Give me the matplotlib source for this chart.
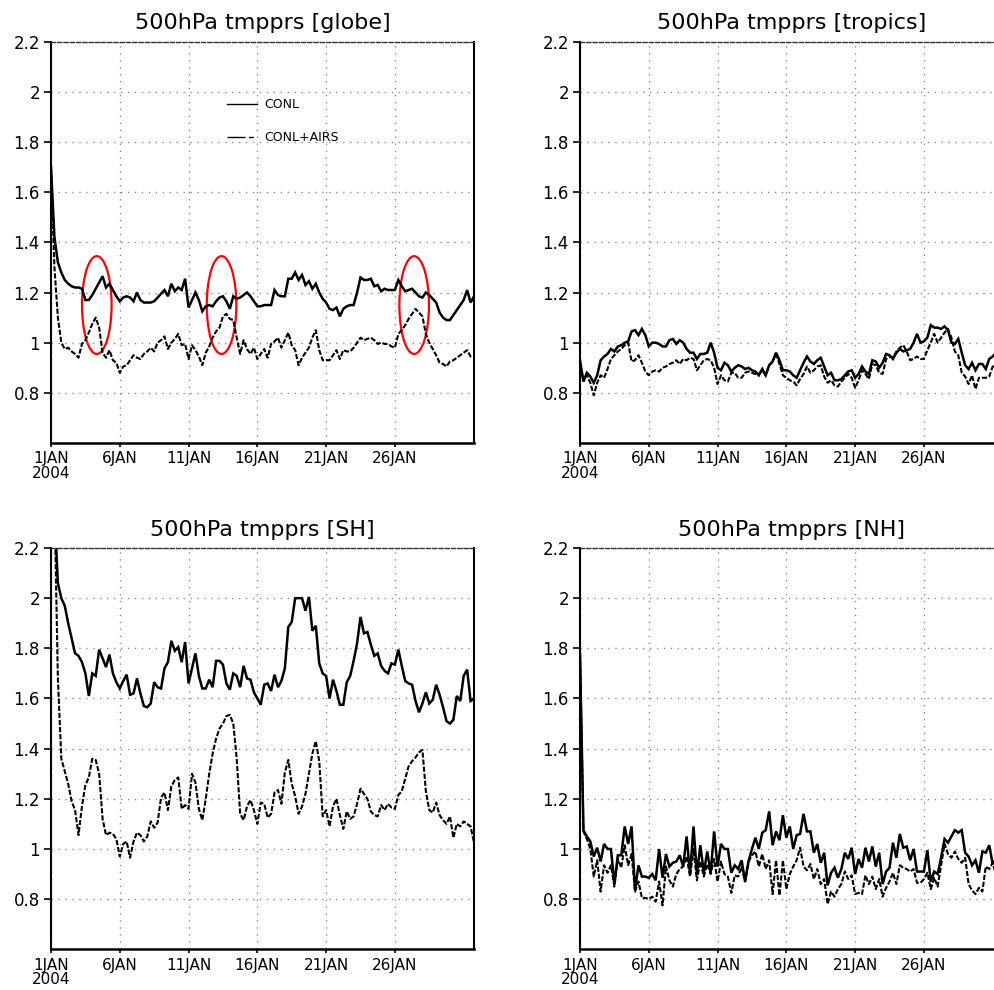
import matplotlib
matplotlib.use('Agg')
import matplotlib.pyplot as plt
from matplotlib.lines import Line2D
from matplotlib.patches import Ellipse
import numpy as np

# 6-hourly samples, 1 JAN 00Z .. 31 JAN 18Z 2004
steps_per_day = 4

globe_conl = [
    1.70, 1.42, 1.32, 1.28, 1.25, 1.235, 1.225, 1.22,
    1.22, 1.215, 1.17, 1.17, 1.19, 1.215, 1.24, 1.265,
    1.22, 1.235, 1.21, 1.185, 1.165, 1.18, 1.185, 1.18,
    1.165, 1.20, 1.17, 1.16, 1.16, 1.16, 1.165, 1.18,
    1.195, 1.21, 1.185, 1.235, 1.205, 1.22, 1.21, 1.255,
    1.14, 1.17, 1.20, 1.17, 1.125, 1.145, 1.15, 1.145,
    1.165, 1.18, 1.185, 1.165, 1.135, 1.185, 1.175, 1.18,
    1.19, 1.20, 1.185, 1.165, 1.145, 1.145, 1.15, 1.15,
    1.15, 1.21, 1.19, 1.185, 1.185, 1.255, 1.255, 1.28,
    1.25, 1.27, 1.23, 1.245, 1.215, 1.235, 1.20, 1.175,
    1.16, 1.135, 1.13, 1.14, 1.105, 1.135, 1.145, 1.15,
    1.15, 1.20, 1.26, 1.25, 1.25, 1.255, 1.225, 1.23,
    1.205, 1.215, 1.21, 1.21, 1.21, 1.25, 1.225, 1.205,
    1.21, 1.215, 1.20, 1.185, 1.18, 1.20, 1.19, 1.175,
    1.16, 1.12, 1.10, 1.09, 1.09, 1.11, 1.13, 1.15,
    1.17, 1.21, 1.16, 1.185]
globe_airs = [
    1.70, 1.30, 1.10, 1.00, 0.975, 0.98, 0.965, 0.955,
    0.94, 0.995, 1.01, 1.04, 1.075, 1.10, 1.06, 0.96,
    0.94, 0.97, 0.93, 0.92, 0.88, 0.905, 0.91, 0.93,
    0.95, 0.94, 0.935, 0.955, 0.965, 0.98, 0.965, 1.00,
    1.01, 1.025, 0.975, 1.00, 1.015, 1.035, 0.99, 0.995,
    0.935, 0.99, 0.97, 0.945, 0.91, 0.96, 0.985, 1.02,
    1.045, 1.06, 1.105, 1.115, 1.095, 1.09, 1.02, 0.955,
    1.01, 0.975, 0.955, 0.98, 0.935, 0.955, 0.975, 0.94,
    0.995, 1.005, 1.02, 0.98, 1.01, 1.04, 0.99, 0.97,
    0.91, 0.94, 0.96, 0.98, 1.02, 1.05, 0.97, 0.93,
    0.93, 0.93, 0.95, 0.97, 0.935, 0.97, 0.965, 0.965,
    0.98, 1.00, 1.02, 1.01, 1.015, 1.02, 1.01, 0.995,
    1.00, 0.995, 0.995, 0.985, 0.98, 1.035, 1.05, 1.07,
    1.095, 1.115, 1.135, 1.12, 1.105, 1.035, 1.00, 0.975,
    0.95, 0.92, 0.915, 0.905, 0.925, 0.93, 0.94, 0.95,
    0.96, 0.97, 0.945, 0.945]

tropics_conl = [
    0.93, 0.845, 0.88, 0.865, 0.84, 0.87, 0.93, 0.945,
    0.955, 0.975, 0.965, 0.985, 0.99, 1.00, 1.005, 1.045,
    1.05, 1.03, 1.055, 1.03, 0.985, 1.00, 1.00, 0.995,
    0.985, 0.985, 1.01, 1.015, 0.995, 1.01, 1.00, 0.975,
    0.96, 0.96, 0.935, 0.955, 0.955, 0.96, 1.00, 0.96,
    0.90, 0.89, 0.92, 0.91, 0.885, 0.90, 0.91, 0.905,
    0.895, 0.90, 0.89, 0.885, 0.87, 0.895, 0.87, 0.91,
    0.925, 0.96, 0.93, 0.89, 0.89, 0.885, 0.87, 0.86,
    0.89, 0.92, 0.945, 0.925, 0.915, 0.93, 0.94, 0.905,
    0.87, 0.88, 0.85, 0.85, 0.855, 0.87, 0.885, 0.89,
    0.86, 0.875, 0.905, 0.885, 0.875, 0.93, 0.925, 0.90,
    0.92, 0.955, 0.95, 0.935, 0.96, 0.975, 0.965, 0.97,
    0.975, 1.00, 1.035, 1.00, 1.005, 1.02, 1.07, 1.06,
    1.06, 1.055, 1.065, 1.05, 1.00, 0.995, 1.015, 0.96,
    0.91, 0.895, 0.92, 0.89, 0.915, 0.915, 0.895, 0.935,
    0.945, 0.96, 0.97, 0.975]
tropics_airs = [
    0.90, 0.855, 0.87, 0.84, 0.79, 0.84, 0.87, 0.86,
    0.895, 0.935, 0.95, 0.965, 0.975, 0.99, 1.00, 0.925,
    0.93, 0.95, 0.92, 0.885, 0.87, 0.885, 0.89, 0.885,
    0.90, 0.905, 0.915, 0.92, 0.93, 0.915, 0.935, 0.93,
    0.94, 0.935, 0.89, 0.91, 0.93, 0.935, 0.93, 0.90,
    0.835, 0.87, 0.85, 0.845, 0.88, 0.88, 0.86, 0.86,
    0.88, 0.885, 0.88, 0.875, 0.875, 0.89, 0.87, 0.91,
    0.925, 0.955, 0.915, 0.87, 0.86, 0.85, 0.845, 0.83,
    0.855, 0.875, 0.905, 0.88, 0.89, 0.905, 0.91, 0.865,
    0.84, 0.85, 0.83, 0.825, 0.845, 0.86, 0.875, 0.86,
    0.82, 0.85, 0.89, 0.875, 0.855, 0.915, 0.91, 0.88,
    0.875, 0.935, 0.945, 0.94, 0.965, 0.98, 0.99, 0.965,
    0.93, 0.935, 0.945, 0.935, 0.935, 0.97, 1.00, 1.035,
    1.00, 1.02, 1.04, 1.055, 1.02, 0.965, 0.95, 0.88,
    0.865, 0.835, 0.87, 0.815, 0.86, 0.86, 0.86, 0.865,
    0.905, 0.91, 0.915, 0.92]

sh_conl = [
    2.70, 2.35, 2.06, 2.00, 1.97, 1.90, 1.84, 1.78,
    1.77, 1.745, 1.70, 1.61, 1.70, 1.69, 1.795, 1.76,
    1.725, 1.775, 1.70, 1.665, 1.64, 1.67, 1.695, 1.615,
    1.62, 1.68, 1.62, 1.57, 1.565, 1.58, 1.665, 1.645,
    1.64, 1.72, 1.745, 1.83, 1.79, 1.805, 1.745, 1.825,
    1.66, 1.72, 1.78, 1.69, 1.64, 1.64, 1.675, 1.645,
    1.75, 1.75, 1.735, 1.66, 1.635, 1.70, 1.69, 1.645,
    1.73, 1.68, 1.675, 1.625, 1.60, 1.575, 1.655, 1.66,
    1.63, 1.695, 1.645, 1.67, 1.72, 1.885, 1.905, 2.00,
    2.00, 2.00, 1.95, 2.005, 1.87, 1.89, 1.74, 1.70,
    1.69, 1.60, 1.675, 1.63, 1.575, 1.575, 1.665, 1.69,
    1.75, 1.82, 1.925, 1.86, 1.865, 1.815, 1.77, 1.78,
    1.73, 1.71, 1.70, 1.74, 1.735, 1.795, 1.73, 1.67,
    1.66, 1.655, 1.59, 1.545, 1.58, 1.625, 1.58, 1.595,
    1.655, 1.615, 1.565, 1.51, 1.50, 1.515, 1.61, 1.59,
    1.69, 1.715, 1.59, 1.60]
sh_airs = [
    2.70, 2.40, 1.68, 1.36, 1.31, 1.26, 1.19, 1.155,
    1.055, 1.17, 1.255, 1.285, 1.36, 1.355, 1.30, 1.12,
    1.055, 1.065, 1.06, 1.04, 0.97, 1.02, 1.03, 0.965,
    1.03, 1.065, 1.055, 1.03, 1.05, 1.11, 1.085, 1.105,
    1.205, 1.225, 1.155, 1.25, 1.275, 1.285, 1.16, 1.175,
    1.16, 1.30, 1.265, 1.16, 1.115, 1.20, 1.30, 1.38,
    1.44, 1.48, 1.50, 1.53, 1.535, 1.50, 1.36, 1.14,
    1.115, 1.17, 1.195, 1.155, 1.10, 1.185, 1.18, 1.125,
    1.14, 1.225, 1.235, 1.18, 1.305, 1.355, 1.26, 1.21,
    1.14, 1.17, 1.22, 1.30, 1.38, 1.43, 1.35, 1.13,
    1.155, 1.09, 1.17, 1.20, 1.135, 1.08, 1.15, 1.12,
    1.13, 1.18, 1.24, 1.22, 1.20, 1.15, 1.135, 1.13,
    1.175, 1.155, 1.18, 1.165, 1.16, 1.215, 1.23, 1.28,
    1.33, 1.35, 1.365, 1.385, 1.395, 1.23, 1.155, 1.145,
    1.185, 1.135, 1.115, 1.10, 1.13, 1.045, 1.10, 1.09,
    1.11, 1.10, 1.09, 1.025]

nh_conl = [
    1.78, 1.075, 1.05, 1.03, 0.97, 1.005, 0.95, 1.02,
    1.00, 1.00, 0.86, 0.975, 0.975, 1.09, 1.02, 1.09,
    0.835, 0.935, 0.89, 0.89, 0.885, 0.90, 0.875, 1.00,
    0.885, 0.98, 0.93, 0.945, 0.95, 0.975, 0.93, 1.05,
    0.90, 1.09, 0.90, 1.015, 0.905, 0.99, 0.905, 1.07,
    0.93, 1.02, 1.00, 1.00, 0.905, 0.935, 0.92, 0.955,
    0.87, 0.95, 1.00, 1.045, 1.00, 1.065, 1.075, 1.15,
    1.015, 1.07, 1.035, 1.135, 1.045, 1.09, 1.00, 1.055,
    1.06, 1.14, 1.07, 1.07, 0.985, 1.02, 0.945, 0.985,
    0.855, 0.905, 0.925, 0.885, 0.92, 0.985, 0.96, 1.005,
    0.90, 0.96, 0.925, 1.005, 0.95, 1.01, 0.93, 0.985,
    0.86, 0.91, 0.925, 1.025, 0.965, 1.06, 1.005, 1.01,
    0.955, 1.00, 0.91, 0.91, 0.91, 0.995, 0.87, 0.91,
    0.90, 0.965, 1.04, 1.025, 1.05, 1.075, 1.065, 1.075,
    0.985, 0.97, 0.935, 0.955, 0.905, 0.99, 0.985, 1.015,
    0.94, 0.96, 0.95, 0.97]
nh_airs = [
    1.78, 1.07, 1.04, 1.00, 0.89, 0.955, 0.83, 0.935,
    0.905, 0.935, 0.85, 0.96, 0.925, 1.015, 0.935, 0.98,
    0.83, 0.87, 0.805, 0.805, 0.80, 0.81, 0.79, 0.87,
    0.775, 0.93, 0.875, 0.85, 0.90, 0.92, 0.93, 0.97,
    0.89, 1.00, 0.875, 0.95, 0.89, 0.94, 0.90, 0.96,
    0.87, 0.95, 0.90, 0.89, 0.825, 0.895, 0.89, 0.93,
    0.87, 0.95, 0.975, 0.99, 0.93, 0.98, 0.92, 0.955,
    0.82, 0.955, 0.815, 0.955, 0.84, 0.90, 0.93, 0.955,
    1.005, 0.93, 0.915, 0.94, 0.88, 0.92, 0.86, 0.88,
    0.78, 0.83, 0.81, 0.84, 0.86, 0.91, 0.88, 0.895,
    0.82, 0.825, 0.82, 0.895, 0.86, 0.89, 0.84, 0.88,
    0.81, 0.845, 0.87, 0.905, 0.86, 0.935, 0.925, 0.92,
    0.91, 0.92, 0.865, 0.865, 0.88, 0.905, 0.84, 0.885,
    0.85, 0.935, 1.02, 0.98, 0.965, 0.99, 0.96, 0.945,
    0.965, 0.86, 0.835, 0.82, 0.845, 0.83, 0.93, 0.92,
    0.945, 0.895, 0.90, 0.92]

panels = [
    ('globe', globe_conl, globe_airs),
    ('tropics', tropics_conl, tropics_airs),
    ('SH', sh_conl, sh_airs),
    ('NH', nh_conl, nh_airs),
]

yticks = [0.8, 1.0, 1.2, 1.4, 1.6, 1.8, 2.0, 2.2]
ytick_labels = ['0.8', '1', '1.2', '1.4', '1.6', '1.8', '2', '2.2']
xticks = [0, 5, 10, 15, 20, 25]
xtick_labels = ['1JAN\n2004', '6JAN', '11JAN', '16JAN', '21JAN', '26JAN']
ellipse_days = [3.33, 12.4, 26.4]
ellipse_value = 1.15

fig = plt.figure(figsize=(9.94, 9.90), dpi=100)

# axes boxes in pixels: left, top of plot area
boxes = [(51, 41.7), (580, 41.7), (51, 548), (580, 548)]
W, H = 423, 401.3

dash_airs = (0, (2.5, 0.9))

for (name, conl, airs), (lx, ty) in zip(panels, boxes):
    ax = fig.add_axes([lx / 994, (990 - ty - H) / 990, W / 994, H / 990])
    days = np.arange(len(conl)) / steps_per_day
    ax.plot(days, conl, color='black', lw=1.8, solid_joinstyle='miter')
    ax.plot(days, airs, color='black', lw=1.5, linestyle=dash_airs)

    ax.set_xlim(0, 30.75)
    ax.set_ylim(0.6, 2.2)
    ax.set_yticks(yticks)
    ax.set_yticklabels(ytick_labels, fontsize=12, family='DejaVu Sans')
    ax.set_xticks(xticks)
    ax.set_xticklabels(xtick_labels, fontsize=11, family='DejaVu Sans',
                       linespacing=0.95)
    ax.tick_params(axis='y', direction='out', length=5, width=1.2, pad=3)
    ax.tick_params(axis='x', direction='out', length=3, width=1.2, pad=3)
    ax.grid(True, linestyle=(0, (1, 4)), color='#8a8a8a', lw=1.0)

    ax.spines['bottom'].set_linewidth(1.8)
    ax.spines['right'].set_linewidth(1.5)
    ax.spines['left'].set_linewidth(1.5)
    ax.spines['left'].set_linestyle((0, (3, 1)))
    ax.spines['top'].set_linewidth(1.0)
    ax.spines['top'].set_linestyle((0, (3, 1.5)))
    ax.spines['top'].set_color('#333333')

    ax.set_title('500hPa tmpprs [%s]' % name, fontsize=16,
                 family='DejaVu Sans', pad=9)

    if name == 'globe':
        for d in ellipse_days:
            ax.add_patch(Ellipse((d, ellipse_value), width=2.15, height=0.39,
                                 fill=False, edgecolor='red', lw=1.6))
        handles = [
            Line2D([], [], color='black', lw=1.0),
            Line2D([], [], color='black', lw=1.0,
                   linestyle=(0, (13, 2.5, 3.5, 20))),
        ]
        ax.legend(handles, ['CONL', 'CONL+AIRS'], loc='upper left',
                  bbox_to_anchor=(0.416, 0.86), frameon=False,
                  prop={'family': 'DejaVu Sans', 'size': 9},
                  handlelength=2.4, handletextpad=0.6, labelspacing=1.6,
                  borderpad=0, borderaxespad=0)

fig.savefig('out.png', dpi=100)
